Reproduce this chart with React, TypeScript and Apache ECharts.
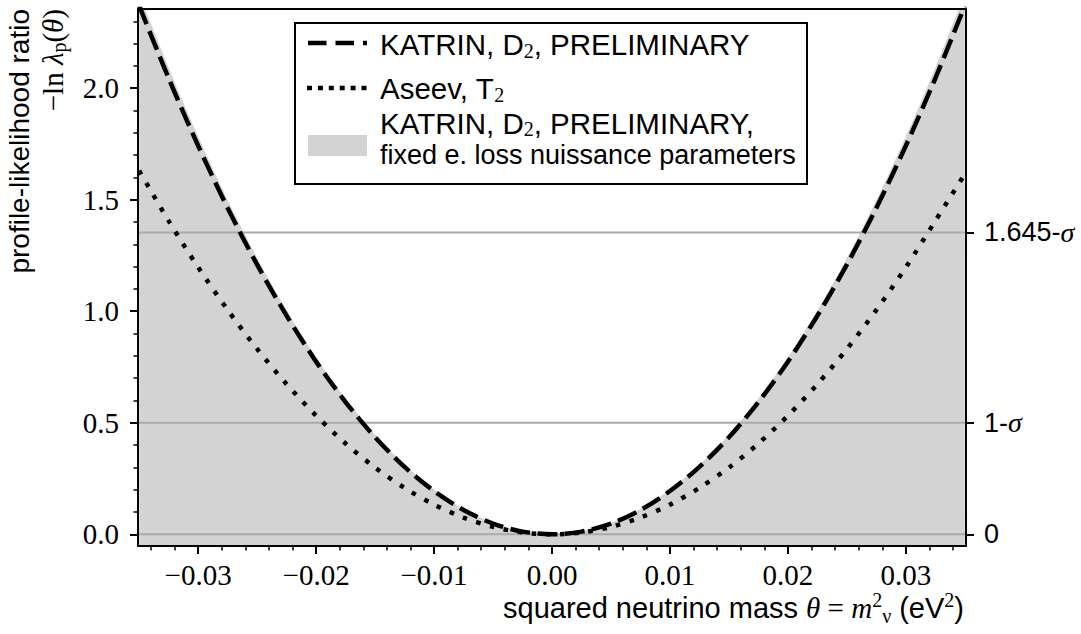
import React, { useEffect, useRef } from "react";
import * as echarts from "echarts";

// squared neutrino mass theta (eV^2)
const thetaValues = [
  -0.035, -0.0325, -0.03, -0.0275, -0.025, -0.0225, -0.02, -0.0175, -0.015, -0.0125,
  -0.01, -0.0075, -0.005, -0.0025, 0, 0.0025, 0.005, 0.0075, 0.01, 0.0125,
  0.015, 0.0175, 0.02, 0.0225, 0.025, 0.0275, 0.03, 0.0325, 0.035,
];
// KATRIN, D2, PRELIMINARY (dashed)
const katrinValues = [
  2.37, 2.044, 1.742, 1.463, 1.209, 0.98, 0.774, 0.593, 0.435, 0.302,
  0.194, 0.109, 0.048, 0.012, 0.0, 0.012, 0.048, 0.109, 0.194, 0.302,
  0.435, 0.593, 0.774, 0.98, 1.209, 1.463, 1.742, 2.044, 2.37,
];
// Aseev, T2 (dotted)
const aseevValues = [
  1.63, 1.405, 1.197, 1.006, 0.831, 0.673, 0.532, 0.407, 0.299, 0.208,
  0.133, 0.075, 0.033, 0.008, 0.0, 0.008, 0.033, 0.075, 0.133, 0.208,
  0.299, 0.407, 0.532, 0.673, 0.831, 1.006, 1.197, 1.405, 1.615,
];
// KATRIN, D2, PRELIMINARY, fixed e. loss nuissance parameters (grey band)
const fixedLossValues = [
  2.419, 2.086, 1.778, 1.494, 1.234, 1.0, 0.79, 0.605, 0.444, 0.309,
  0.198, 0.111, 0.049, 0.012, 0.0, 0.012, 0.049, 0.111, 0.198, 0.309,
  0.444, 0.605, 0.79, 1.0, 1.234, 1.494, 1.778, 2.086, 2.419,
];

const xMajorTicks = [-0.03, -0.02, -0.01, 0, 0.01, 0.02, 0.03];
const xMinorTicks = [
  -0.034, -0.032, -0.03, -0.028, -0.026, -0.024, -0.022, -0.02, -0.018, -0.016,
  -0.014, -0.012, -0.01, -0.008, -0.006, -0.004, -0.002, 0, 0.002, 0.004,
  0.006, 0.008, 0.01, 0.012, 0.014, 0.016, 0.018, 0.02, 0.022, 0.024,
  0.026, 0.028, 0.03, 0.032, 0.034,
];
const yMajorTicks = [0, 0.5, 1.0, 1.5, 2.0];
const yMinorTicks = [
  0.1, 0.2, 0.3, 0.4, 0.5, 0.6, 0.7, 0.8, 0.9, 1.0, 1.1, 1.2,
  1.3, 1.4, 1.5, 1.6, 1.7, 1.8, 1.9, 2.0, 2.1, 2.2, 2.3,
];
const sigmaLevels = [0, 0.5, 1.353];
const sigmaLabels = ["0", "1-{s|σ}", "1.645-{s|σ}"];

const X_MIN = -0.0351;
const X_MAX = 0.0351;
const Y_MIN = -0.0525;
const Y_MAX = 2.355;

const SERIF = "'Liberation Serif', 'DejaVu Serif', serif";
const SANS = "'Liberation Sans', 'DejaVu Sans', sans-serif";

const pairs = (ys: number[]) => thetaValues.map((x, i) => [x, ys[i]]);
const minus = (s: string) => s.replace("-", "\u2212");

export default function App() {
  const ref = useRef<HTMLDivElement>(null);

  useEffect(() => {
    if (!ref.current) return;
    const chart = echarts.init(ref.current, undefined, { renderer: "svg" });

    const frameLine = { show: true, onZero: false, lineStyle: { color: "#000", width: 2 } };
    const noSplit = { show: false };

    const subStyle = { fontFamily: SERIF, fontSize: 20, lineHeight: 20, verticalAlign: "bottom", fill: "#000", color: "#000" };
    const supStyle = { fontFamily: SERIF, fontSize: 20, lineHeight: 20, verticalAlign: "top", fill: "#000", color: "#000" };

    const option: any = {
      animation: false,
      grid: { left: 138, top: 9, width: 828, height: 537, containLabel: false },
      xAxis: [
        {
          type: "value", position: "bottom", min: X_MIN, max: X_MAX, z: 5,
          axisLine: frameLine,
          axisTick: { show: true, customValues: xMajorTicks, length: 8, lineStyle: { color: "#000", width: 2 } },
          axisLabel: {
            show: true, customValues: xMajorTicks, margin: 14,
            fontFamily: SERIF, fontSize: 29, color: "#000",
            formatter: (v: number) => minus(v.toFixed(2)),
          },
          splitLine: noSplit,
        },
        {
          type: "value", position: "bottom", min: X_MIN, max: X_MAX, z: 5,
          axisLine: { show: false, onZero: false },
          axisTick: { show: true, customValues: xMinorTicks, length: 4.5, lineStyle: { color: "#000", width: 1.5 } },
          axisLabel: { show: false },
          splitLine: noSplit,
        },
        {
          type: "value", position: "top", min: X_MIN, max: X_MAX, z: 5,
          axisLine: frameLine,
          axisTick: { show: false },
          axisLabel: { show: false },
          splitLine: noSplit,
        },
      ],
      yAxis: [
        {
          type: "value", position: "left", min: Y_MIN, max: Y_MAX, z: 5,
          axisLine: frameLine,
          axisTick: { show: true, customValues: yMajorTicks, length: 8, lineStyle: { color: "#000", width: 2 } },
          axisLabel: {
            show: true, customValues: yMajorTicks, margin: 19,
            fontFamily: SERIF, fontSize: 29, color: "#000",
            formatter: (v: number) => v.toFixed(1),
          },
          splitLine: noSplit,
        },
        {
          type: "value", position: "left", min: Y_MIN, max: Y_MAX, z: 5,
          axisLine: { show: false, onZero: false },
          axisTick: { show: true, customValues: yMinorTicks, length: 4.5, lineStyle: { color: "#000", width: 1.5 } },
          axisLabel: { show: false },
          splitLine: noSplit,
        },
        {
          type: "value", position: "right", min: Y_MIN, max: Y_MAX, z: 5,
          axisLine: frameLine,
          axisTick: { show: true, customValues: sigmaLevels, length: 8, lineStyle: { color: "#000", width: 2 } },
          axisLabel: {
            show: true, customValues: sigmaLevels, margin: 18,
            fontFamily: SANS, fontSize: 27, color: "#000",
            formatter: (v: number) => {
              let best = 0;
              sigmaLevels.forEach((l, i) => {
                if (Math.abs(l - v) < Math.abs(sigmaLevels[best] - v)) best = i;
              });
              return sigmaLabels[best];
            },
            rich: { s: { fontFamily: SERIF, fontStyle: "italic", fontSize: 28, color: "#000" } },
          },
          splitLine: noSplit,
        },
      ],
      series: [
        {
          name: "KATRIN, D2, PRELIMINARY, fixed e. loss nuissance parameters",
          type: "line", xAxisIndex: 0, yAxisIndex: 0, z: 1,
          data: pairs(fixedLossValues), smooth: 0.3, showSymbol: false, symbol: "none",
          lineStyle: { width: 1, color: "#d3d3d3" },
          areaStyle: { color: "#d3d3d3", opacity: 1, origin: "start" },
          silent: true,
        },
        ...sigmaLevels.map((lvl) => ({
          name: "level " + lvl, type: "line", xAxisIndex: 0, yAxisIndex: 0, z: 2,
          data: [[X_MIN, lvl], [X_MAX, lvl]], showSymbol: false, symbol: "none",
          lineStyle: { width: 2, color: "#aaaaaa" }, silent: true,
        })),
        {
          name: "Aseev, T2", type: "line", xAxisIndex: 0, yAxisIndex: 0, z: 3,
          data: pairs(aseevValues), smooth: 0.3, showSymbol: false, symbol: "none",
          lineStyle: { width: 4.5, color: "#000", type: [4.5, 9.7], cap: "butt" },
          silent: true,
        },
        {
          name: "KATRIN, D2, PRELIMINARY", type: "line", xAxisIndex: 0, yAxisIndex: 0, z: 4,
          data: pairs(katrinValues), smooth: 0.3, showSymbol: false, symbol: "none",
          lineStyle: { width: 4.5, color: "#000", type: [20, 7.5], cap: "butt" },
          silent: true,
        },
      ],
      graphic: [
        // legend box
        { type: "rect", z: 100, shape: { x: 295, y: 23, width: 512, height: 161 }, style: { fill: "#fff", stroke: "#000", lineWidth: 2 } },
        { type: "line", z: 101, shape: { x1: 308, y1: 43, x2: 367, y2: 43 }, style: { stroke: "#000", lineWidth: 4.5, lineDash: [18.5, 9] } },
        { type: "line", z: 101, shape: { x1: 307, y1: 88, x2: 367, y2: 88 }, style: { stroke: "#000", lineWidth: 4.5, lineDash: [5, 5.9] } },
        { type: "rect", z: 101, shape: { x: 308, y: 135, width: 59, height: 21 }, style: { fill: "#d3d3d3" } },
        {
          type: "text", z: 101, x: 380, y: 44,
          style: {
            text: "KATRIN, D{sub|2}, PRELIMINARY", fontFamily: SANS, fontSize: 29.5, fill: "#000",
            align: "left", verticalAlign: "middle", lineHeight: 34, rich: { sub: subStyle },
          },
        },
        {
          type: "text", z: 101, x: 380, y: 88,
          style: {
            text: "Aseev, T{sub|2}", fontFamily: SANS, fontSize: 29.5, fill: "#000",
            align: "left", verticalAlign: "middle", lineHeight: 34, rich: { sub: subStyle },
          },
        },
        {
          type: "text", z: 101, x: 380, y: 139,
          style: {
            text: "KATRIN, D{sub|2}, PRELIMINARY,\n{t|fixed e. loss nuissance parameters}", fontFamily: SANS, fontSize: 29.5, fill: "#000",
            align: "left", verticalAlign: "middle", lineHeight: 32,
            rich: { sub: subStyle, t: { fontFamily: SANS, fontSize: 27, fill: "#000", color: "#000" } },
          },
        },
        // y-axis title
        {
          type: "text", z: 101, x: 36, y: 9, rotation: Math.PI / 2,
          style: {
            text: "profile-likelihood ratio\n{m|\u2212ln }{i|λ}{sub|p}{m|(}{i|θ}{m|)}",
            fontFamily: SANS, fontSize: 28, fill: "#000", lineHeight: 33,
            align: "right", verticalAlign: "middle",
            rich: {
              m: { fontFamily: SERIF, fontSize: 29, fill: "#000", color: "#000" },
              i: { fontFamily: SERIF, fontStyle: "italic", fontSize: 29, fill: "#000", color: "#000" },
              sub: subStyle,
            },
          },
        },
        // x-axis title
        {
          type: "text", z: 101, x: 964, y: 608,
          style: {
            text: "squared neutrino mass {i|θ}{m| = }{i|m}{sup|2}{sub|ν} (eV{sup|2})",
            fontFamily: SANS, fontSize: 29, fill: "#000", lineHeight: 36,
            align: "right", verticalAlign: "middle",
            rich: {
              m: { fontFamily: SERIF, fontSize: 29, fill: "#000", color: "#000" },
              i: { fontFamily: SERIF, fontStyle: "italic", fontSize: 29, fill: "#000", color: "#000" },
              sub: subStyle,
              sup: supStyle,
            },
          },
        },
      ],
    };

    chart.setOption(option);
    return () => chart.dispose();
  }, []);

  return (
    <div
      ref={ref}
      style={{ position: "fixed", left: 0, top: 0, width: 1081, height: 634, background: "#fff" }}
    />
  );
}
